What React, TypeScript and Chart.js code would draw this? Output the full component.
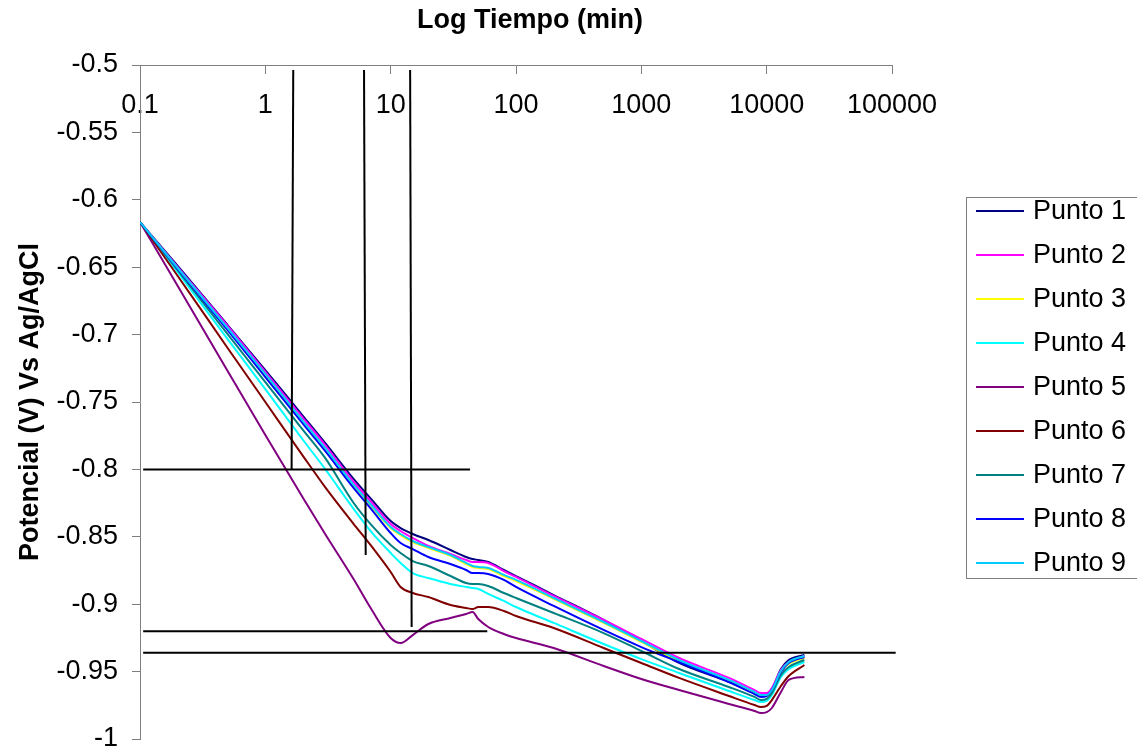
import React, { useEffect, useRef } from 'react';
import { Chart, registerables } from 'chart.js';

Chart.register(...registerables);

const FONT = "'Liberation Sans', Arial, sans-serif";

// Time (min), log axis
const TIMES = [0.1, 0.2, 0.5, 1, 2, 3, 5, 7, 10, 12, 15, 20, 30, 40, 45, 50, 60, 80, 100, 200, 500, 1000, 2000, 5000, 8000, 9000, 10000, 11000, 13000, 15000, 20000];

const PUNTO_1 = [-0.6165, -0.6491, -0.6929, -0.7263, -0.7604, -0.7804, -0.8064, -0.822, -0.8383, -0.8435, -0.8479, -0.8524, -0.8598, -0.865, -0.8665, -0.8672, -0.8687, -0.8746, -0.8791, -0.8932, -0.9117, -0.9273, -0.9436, -0.9577, -0.9659, -0.9674, -0.9666, -0.9629, -0.9481, -0.9414, -0.9377];
const PUNTO_2 = [-0.6165, -0.6499, -0.6936, -0.7277, -0.7619, -0.7819, -0.8086, -0.8242, -0.8405, -0.8457, -0.8509, -0.8568, -0.8628, -0.8672, -0.8687, -0.8687, -0.8694, -0.8754, -0.8798, -0.8939, -0.9117, -0.9258, -0.9399, -0.9547, -0.9637, -0.9659, -0.9659, -0.9622, -0.9488, -0.9429, -0.9384];
const PUNTO_3 = [-0.6165, -0.6513, -0.6958, -0.73, -0.7648, -0.7849, -0.8116, -0.8272, -0.8435, -0.8487, -0.8539, -0.8583, -0.8642, -0.8702, -0.8724, -0.8731, -0.8739, -0.8791, -0.8828, -0.8961, -0.9139, -0.928, -0.9421, -0.957, -0.9659, -0.9681, -0.9681, -0.9644, -0.9503, -0.9444, -0.9399];
const PUNTO_4 = [-0.6165, -0.6536, -0.7033, -0.7404, -0.7782, -0.7997, -0.8286, -0.8464, -0.862, -0.8694, -0.8769, -0.8806, -0.885, -0.8872, -0.888, -0.8887, -0.8924, -0.8976, -0.9021, -0.9139, -0.9295, -0.9407, -0.951, -0.9644, -0.9711, -0.9726, -0.9718, -0.9674, -0.954, -0.9481, -0.9429];
const PUNTO_5 = [-0.6165, -0.6639, -0.727, -0.7745, -0.8212, -0.8479, -0.8806, -0.9036, -0.9251, -0.9288, -0.9229, -0.9147, -0.9102, -0.9073, -0.9058, -0.911, -0.9169, -0.9221, -0.9251, -0.9325, -0.9458, -0.9555, -0.9637, -0.974, -0.9792, -0.9807, -0.98, -0.977, -0.9651, -0.9562, -0.954];
const PUNTO_6 = [-0.6165, -0.6565, -0.7099, -0.75, -0.7901, -0.8131, -0.8398, -0.8568, -0.8761, -0.8872, -0.8917, -0.8947, -0.9006, -0.9028, -0.9036, -0.9021, -0.9021, -0.905, -0.9088, -0.9177, -0.9325, -0.9436, -0.9547, -0.9681, -0.9748, -0.9763, -0.9755, -0.9711, -0.9607, -0.9533, -0.9451];
const PUNTO_7 = [-0.6165, -0.6521, -0.6996, -0.7352, -0.7708, -0.7915, -0.8242, -0.8412, -0.8561, -0.862, -0.868, -0.8717, -0.8791, -0.8843, -0.885, -0.885, -0.8865, -0.8917, -0.8954, -0.9065, -0.9214, -0.9347, -0.9481, -0.9614, -0.9688, -0.9711, -0.9703, -0.9659, -0.9525, -0.9466, -0.9414];
const PUNTO_8 = [-0.6165, -0.6513, -0.6966, -0.7315, -0.7663, -0.7863, -0.8131, -0.8294, -0.8472, -0.8546, -0.8591, -0.865, -0.8702, -0.8746, -0.8769, -0.8769, -0.8776, -0.882, -0.8872, -0.9013, -0.9191, -0.9318, -0.9429, -0.9577, -0.9666, -0.9688, -0.9681, -0.9637, -0.9503, -0.9436, -0.9392];
const PUNTO_9 = [-0.6165, -0.6506, -0.6951, -0.7292, -0.7641, -0.7841, -0.8108, -0.8264, -0.8427, -0.8479, -0.8531, -0.8576, -0.8635, -0.8694, -0.8717, -0.8724, -0.8731, -0.8783, -0.882, -0.8954, -0.9132, -0.9273, -0.9414, -0.9562, -0.9651, -0.9674, -0.9674, -0.9637, -0.9496, -0.9429, -0.9384];

const SERIES_VALUES = [PUNTO_1, PUNTO_2, PUNTO_3, PUNTO_4, PUNTO_5, PUNTO_6, PUNTO_7, PUNTO_8, PUNTO_9];
const SERIES_NAMES = ['Punto 1', 'Punto 2', 'Punto 3', 'Punto 4', 'Punto 5', 'Punto 6', 'Punto 7', 'Punto 8', 'Punto 9'];
const SERIES_COLORS = ['#000080', '#FF00FF', '#FFFF00', '#00FFFF', '#800080', '#800000', '#008080', '#0000FF', '#00CCFF'];

// Drawn guide lines (time, potential) pairs
const GUIDE_V1 = [[1.67, -0.5037], [1.62, -0.8]];
const GUIDE_V2 = [[6.13, -0.5037], [6.32, -0.8635]];
const GUIDE_V3 = [[14.3, -0.5037], [14.7, -0.917]];
const GUIDE_H1 = [[0.106, -0.8], [43, -0.8]];
const GUIDE_H2 = [[0.106, -0.92], [59, -0.92]];
const GUIDE_H3 = [[0.106, -0.936], [107000, -0.936]];
const GUIDES = [GUIDE_V1, GUIDE_V2, GUIDE_V3, GUIDE_H1, GUIDE_H2, GUIDE_H3];

const X_TICKS = [0.1, 1, 10, 100, 1000, 10000, 100000];
const X_TICK_LABELS = ['0.1', '1', '10', '100', '1000', '10000', '100000'];
const Y_TICKS = [-1, -0.95, -0.9, -0.85, -0.8, -0.75, -0.7, -0.65, -0.6, -0.55, -0.5];

const X_TITLE = 'Log Tiempo (min)';
const Y_TITLE = 'Potencial (V) Vs Ag/AgCl';

const AXIS_GREY = '#808080';

const topTitlePlugin = {
  id: 'topTitle',
  afterDraw(chart: any) {
    const { ctx, chartArea } = chart;
    ctx.save();
    ctx.font = `bold 27px ${FONT}`;
    ctx.fillStyle = '#000';
    ctx.textAlign = 'center';
    ctx.textBaseline = 'alphabetic';
    ctx.fillText(X_TITLE, (chartArea.left + chartArea.right) / 2 + 14, 28);
    ctx.restore();
  },
};

const boxLegendPlugin = {
  id: 'boxLegend',
  afterDraw(chart: any) {
    const { ctx } = chart;
    const items = chart.data.datasets.filter((d: any) => !d.isGuide);
    ctx.save();
    ctx.strokeStyle = AXIS_GREY;
    ctx.lineWidth = 1;
    ctx.strokeRect(966.5, 197.5, 200, 381);
    ctx.font = `27px ${FONT}`;
    ctx.textAlign = 'left';
    ctx.textBaseline = 'middle';
    items.forEach((d: any, i: number) => {
      const y = 211 + i * 44;
      ctx.strokeStyle = d.borderColor;
      ctx.lineWidth = 2;
      ctx.beginPath();
      ctx.moveTo(976, y);
      ctx.lineTo(1024, y);
      ctx.stroke();
      ctx.fillStyle = '#000';
      ctx.fillText(d.label, 1033, y + 1);
    });
    ctx.restore();
  },
};

export default function App() {
  const canvasRef = useRef<HTMLCanvasElement | null>(null);

  useEffect(() => {
    if (!canvasRef.current) return;
    Chart.defaults.font.family = FONT;
    Chart.defaults.color = '#000';

    const seriesDatasets = SERIES_VALUES.map((vals, i) => ({
      label: SERIES_NAMES[i],
      data: TIMES.map((t, j) => ({ x: t, y: vals[j] })),
      borderColor: SERIES_COLORS[i],
      backgroundColor: SERIES_COLORS[i],
      borderWidth: 2,
      pointRadius: 0,
      fill: false,
      cubicInterpolationMode: 'monotone' as const,
      order: 20 - i,
    }));

    const guideDatasets = GUIDES.map((g, i) => ({
      label: 'guide' + i,
      isGuide: true,
      data: g.map(([x, y]) => ({ x, y })),
      borderColor: '#000',
      backgroundColor: '#000',
      borderWidth: 2,
      pointRadius: 0,
      fill: false,
      clip: false as any,
      order: 0,
    }));

    const chart = new Chart(canvasRef.current, {
      type: 'line',
      data: { datasets: [...seriesDatasets, ...guideDatasets] as any },
      options: {
        animation: false,
        responsive: false,
        devicePixelRatio: 1,
        layout: { padding: { left: 0, top: 65, right: 245, bottom: 13 } },
        plugins: {
          legend: { display: false },
          tooltip: { enabled: false },
          title: { display: false },
        },
        scales: {
          x: {
            type: 'logarithmic',
            position: { y: -0.5 } as any,
            min: 0.1,
            max: 100000,
            afterBuildTicks: (s: any) => {
              s.ticks = X_TICKS.map((v) => ({ value: v }));
            },
            afterFit: (s: any) => {
              s.paddingLeft = 0;
              s.paddingRight = 0;
            },
            ticks: {
              autoSkip: false,
              maxRotation: 0,
              minRotation: 0,
              padding: 16,
              color: '#000',
              font: { size: 27, family: FONT },
              callback: (_v: any, idx: number) => X_TICK_LABELS[idx],
            },
            grid: {
              display: true,
              drawOnChartArea: false,
              drawTicks: true,
              tickLength: 8,
              color: AXIS_GREY,
            },
            border: { display: true, color: AXIS_GREY, width: 1 },
          },
          y: {
            type: 'linear',
            position: 'left',
            min: -1,
            max: -0.5,
            afterBuildTicks: (s: any) => {
              s.ticks = Y_TICKS.map((v) => ({ value: v }));
            },
            afterFit: (s: any) => {
              s.width = 140;
              s.paddingTop = 0;
              s.paddingBottom = 0;
            },
            ticks: {
              autoSkip: false,
              padding: 14,
              color: '#000',
              font: { size: 27, family: FONT },
              callback: (v: any) => String(Number(Number(v).toFixed(2))),
            },
            grid: {
              display: true,
              drawOnChartArea: false,
              drawTicks: true,
              tickLength: 8,
              color: AXIS_GREY,
            },
            border: { display: true, color: AXIS_GREY, width: 1 },
            title: {
              display: true,
              text: Y_TITLE,
              color: '#000',
              font: { size: 27, weight: 'bold', family: FONT },
              padding: { top: 14, bottom: 0 },
            },
          },
        },
      },
      plugins: [topTitlePlugin, boxLegendPlugin],
    });

    return () => {
      chart.destroy();
    };
  }, []);

  return (
    <div style={{ position: 'fixed', left: 0, top: 0, width: 1137, height: 752, background: '#fff' }}>
      <canvas ref={canvasRef} width={1137} height={752} style={{ display: 'block' }} />
    </div>
  );
}
